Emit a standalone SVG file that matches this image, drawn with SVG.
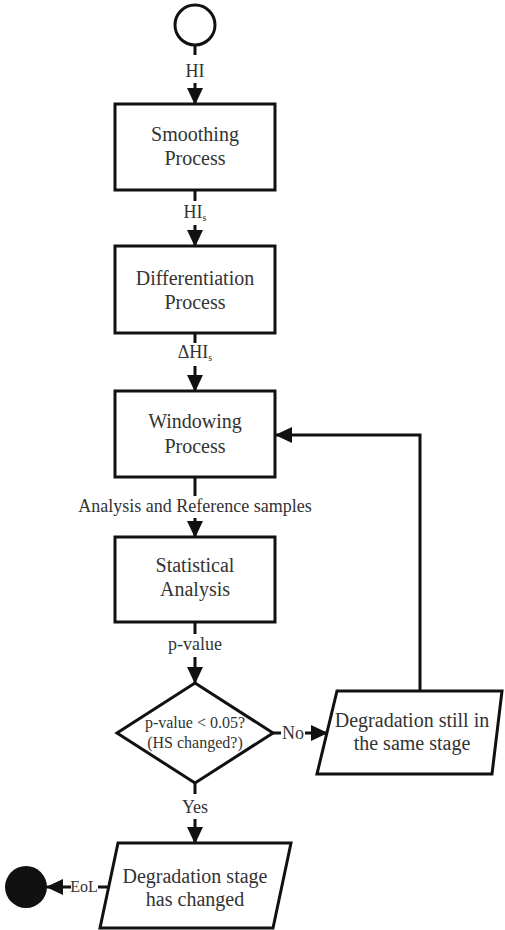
<svg xmlns="http://www.w3.org/2000/svg" width="505" height="930" viewBox="0 0 505 930">
<style>
.shape{fill:#fff;stroke:#111;stroke-width:3;stroke-linejoin:miter}
.t{font-family:"Liberation Serif","Times New Roman",serif;font-size:20px;fill:#333;text-anchor:middle}
.lbl{font-family:"Liberation Serif","Times New Roman",serif;font-size:18px;fill:#333;text-anchor:middle}
.dt{font-family:"Liberation Serif","Times New Roman",serif;font-size:16px;fill:#333;text-anchor:middle}
.sub{font-size:10px}
.c{fill:none;stroke:#111;stroke-width:3}
.a{fill:none;stroke:#111;stroke-width:3;marker-end:url(#ah)}
</style>
<defs>
<marker id="ah" viewBox="0 0 17 16" refX="16" refY="8" markerWidth="17" markerHeight="16" markerUnits="userSpaceOnUse" orient="auto">
<path d="M0,0 L17,8 L0,16 z" fill="#111"/>
</marker>
</defs>
<g id="start"><circle class="shape" cx="195" cy="25" r="20"/></g>
<g id="smoothing"><rect class="shape" x="115" y="104" width="160" height="86"/>
<text class="t" x="195" y="141">Smoothing</text><text class="t" x="195" y="165">Process</text></g>
<g id="differentiation"><rect class="shape" x="115" y="246" width="160" height="87"/>
<text class="t" x="195" y="285">Differentiation</text><text class="t" x="195" y="309">Process</text></g>
<g id="windowing"><rect class="shape" x="115" y="391" width="160" height="86"/>
<text class="t" x="195" y="428">Windowing</text><text class="t" x="195" y="453">Process</text></g>
<g id="statistical"><rect class="shape" x="115" y="537" width="160" height="85"/>
<text class="t" x="195" y="572">Statistical</text><text class="t" x="195" y="596">Analysis</text></g>
<g id="decision"><polygon class="shape" points="195,683 273,733 195,783 117,733"/>
<text class="dt" x="195" y="728">p-value &lt; 0.05?</text><text class="dt" x="195" y="748">(HS changed?)</text></g>
<g id="same-stage"><polygon class="shape" points="337,691 502,691 492,774 317,774"/>
<text class="t" x="412" y="727">Degradation still in</text><text class="t" x="412" y="750">the same stage</text></g>
<g id="changed"><polygon class="shape" points="118,843 291,843 273,928 100,928"/>
<text class="t" x="195" y="883">Degradation stage</text><text class="t" x="195" y="906">has changed</text></g>
<g id="end"><circle cx="26" cy="887" r="21" fill="#111"/></g>
<g id="connectors">
<line class="c" x1="195" y1="45" x2="195" y2="55"/>
<text class="lbl" x="195" y="77">HI</text>
<line class="a" x1="195" y1="83" x2="195" y2="104"/>
<line class="c" x1="195" y1="190" x2="195" y2="201"/>
<text class="lbl" x="195" y="218">HI<tspan class="sub" dy="3">s</tspan></text>
<line class="a" x1="195" y1="225" x2="195" y2="246"/>
<line class="c" x1="195" y1="333" x2="195" y2="343"/>
<text class="lbl" x="195" y="358">ΔHI<tspan class="sub" dy="3">s</tspan></text>
<line class="a" x1="195" y1="366" x2="195" y2="391"/>
<line class="c" x1="195" y1="477" x2="195" y2="496"/>
<text class="lbl" x="195" y="512">Analysis and Reference samples</text>
<line class="a" x1="195" y1="518" x2="195" y2="537"/>
<line class="c" x1="195" y1="622" x2="195" y2="634"/>
<text class="lbl" x="195" y="650">p-value</text>
<line class="a" x1="195" y1="657" x2="195" y2="683"/>
<line class="c" x1="273" y1="733" x2="281" y2="733"/>
<text class="lbl" x="293" y="739">No</text>
<line class="a" x1="305" y1="733" x2="327" y2="733"/>
<polyline class="a" points="420,691 420,435 276,435"/>
<line class="c" x1="195" y1="783" x2="195" y2="794"/>
<text class="lbl" x="195" y="813">Yes</text>
<line class="a" x1="195" y1="819" x2="195" y2="843"/>
<line class="c" x1="109" y1="887" x2="98" y2="887"/>
<text class="dt" x="84" y="892">EoL</text>
<line class="a" x1="71" y1="887" x2="47" y2="887"/>
</g>
</svg>
